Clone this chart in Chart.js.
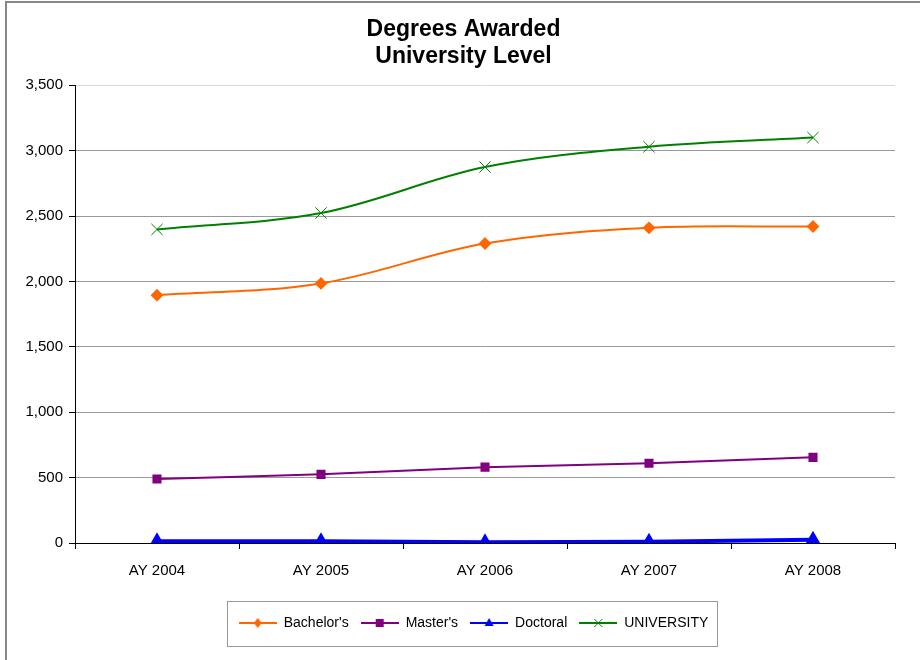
<!DOCTYPE html>
<html>
<head>
<meta charset="utf-8">
<script src="https://cdn.jsdelivr.net/npm/chart.js@4/dist/chart.umd.min.js"></script>
<style>
  body { margin: 0; background: #fff; }
  #wrap { position: relative; width: 920px; height: 660px; overflow: hidden; }
  #frame { position: absolute; left: 5px; top: 1px; width: 960px; height: 700px; border: 2px solid #888; }
  canvas { position: absolute; left: 0; top: 0; }
</style>
</head>
<body>
<div id="wrap">
  <div id="frame"></div>
  <canvas id="degreesChart" width="920" height="660"></canvas>
</div>
<script>
const years = ['AY 2004', 'AY 2005', 'AY 2006', 'AY 2007', 'AY 2008'];
const bachelors = [1895, 1985, 2290, 2410, 2420];
const masters = [490, 525, 580, 610, 655];
const doctoral = [13, 13, 5, 10, 25];
const university = [2398, 2523, 2875, 3030, 3100];
const yMin = 0, yMax = 3500, yStep = 500;

const FONT = 'Liberation Sans, Arial, sans-serif';
const LEGEND_GAP = 12;

// little line + marker picture for the legend
function legendSymbol(color, style, lineWidth) {
    const c = document.createElement('canvas');
    c.width = 38; c.height = 14;
    const g = c.getContext('2d');
    g.strokeStyle = color; g.fillStyle = color;
    g.lineWidth = lineWidth;
    g.beginPath(); g.moveTo(0, 7); g.lineTo(38, 7); g.stroke();
    const x = 19, y = 7;
    g.beginPath();
    if (style === 'diamond') {
        g.moveTo(x, y - 5); g.lineTo(x + 4, y); g.lineTo(x, y + 5); g.lineTo(x - 4, y); g.closePath(); g.fill();
    } else if (style === 'square') {
        g.fillRect(x - 4, y - 4, 8, 8);
    } else if (style === 'triangle') {
        g.moveTo(x, y - 5); g.lineTo(x + 4.5, y + 3); g.lineTo(x - 4.5, y + 3); g.closePath(); g.fill();
    } else {
        g.lineWidth = 1;
        g.moveTo(x - 4, y - 4); g.lineTo(x + 4, y + 4);
        g.moveTo(x + 4, y - 4); g.lineTo(x - 4, y + 4); g.stroke();
    }
    return c;
}

const symbols = [
    legendSymbol('#FF6600', 'diamond', 2),
    legendSymbol('#800080', 'square', 2),
    legendSymbol('#0000FF', 'triangle', 2),
    legendSymbol('#008000', 'cross', 2)
];

// nudge title and legend a bit right, like the original sheet
const nudge = {
    id: 'nudge',
    afterLayout(chart) {
        if (chart.titleBlock) chart.titleBlock.left += 32;
        if (chart.legend) chart.legend.left += 52;
    }
};

// grey frame round the legend
const legendFrame = {
    id: 'legendFrame',
    afterDraw(chart) {
        const lg = chart.legend;
        const boxes = lg.legendHitBoxes;
        if (!boxes || !boxes.length) return;
        const total = boxes.reduce((s, b) => s + b.width, 0) + LEGEND_GAP * (boxes.length - 1);
        const center = (lg.left + lg.right) / 2;
        const left = center - total / 2;
        const mid = boxes[0].top + boxes[0].height / 2;
        const ctx = chart.ctx;
        ctx.save();
        ctx.strokeStyle = '#999';
        ctx.lineWidth = 1;
        ctx.strokeRect(Math.round(left - 12) + 0.5, Math.round(mid - 22) + 0.5, Math.round(total + 20), 45);
        ctx.restore();
    }
};

const ctx = document.getElementById('degreesChart').getContext('2d');

const chart = new Chart(ctx, {
    type: 'line',
    data: {
        labels: years,
        datasets: [{
            label: "Bachelor's",
            data: bachelors,
            borderColor: '#FF6600',
            backgroundColor: '#FF6600',
            borderWidth: 2,
            pointStyle: 'rectRot',
            pointRadius: 5,
            tension: 0.35
        }, {
            label: "Master's",
            data: masters,
            borderColor: '#800080',
            backgroundColor: '#800080',
            borderWidth: 2,
            pointStyle: 'rect',
            pointRadius: 5,
            tension: 0.2
        }, {
            label: 'Doctoral',
            data: doctoral,
            borderColor: '#0000FF',
            backgroundColor: '#0000FF',
            borderWidth: 4,
            pointStyle: 'triangle',
            pointRadius: 5,
            tension: 0
        }, {
            label: 'UNIVERSITY',
            data: university,
            borderColor: '#008000',
            backgroundColor: '#008000',
            borderWidth: 2,
            pointStyle: 'crossRot',
            pointRadius: 8,
            pointBorderWidth: 1,
            tension: 0.35
        }]
    },
    options: {
        responsive: false,
        animation: false,
        layout: { padding: { left: 0, right: 25, top: 0, bottom: 20 } },
        plugins: {
            title: {
                display: true,
                text: ['Degrees Awarded', 'University Level'],
                color: '#000',
                font: { family: FONT, size: 23, weight: 'bold', lineHeight: 1.18 },
                padding: { top: 16, bottom: 15 }
            },
            legend: {
                position: 'bottom',
                labels: {
                    color: '#000',
                    font: { family: FONT, size: 14 },
                    usePointStyle: true,
                    pointStyleWidth: 38,
                    padding: LEGEND_GAP,
                    generateLabels(chart) {
                        return chart.data.datasets.map((ds, i) => ({
                            text: ds.label,
                            fontColor: '#000',
                            pointStyle: symbols[i],
                            datasetIndex: i,
                            hidden: false,
                            lineWidth: 0
                        }));
                    }
                }
            },
            tooltip: { enabled: false }
        },
        scales: {
            x: {
                offset: true,
                afterFit(scale) { scale.height = 61; },
                grid: {
                    offset: true,
                    drawOnChartArea: false,
                    tickLength: 6,
                    tickColor: '#000'
                },
                border: { color: '#000', width: 1 },
                ticks: { color: '#000', font: { family: FONT, size: 15 }, padding: 13 }
            },
            y: {
                min: yMin,
                max: yMax,
                afterFit(scale) { scale.width = 75; },
                grid: {
                    color: (c) => c.tick && c.tick.value === yMax ? '#d8d8d8' : '#999',
                    lineWidth: 1,
                    tickLength: 6,
                    tickColor: '#000'
                },
                border: { color: '#000', width: 1 },
                ticks: {
                    stepSize: yStep,
                    color: '#000',
                    font: { family: FONT, size: 15 },
                    padding: 6,
                    callback: (v) => v.toLocaleString('en-US')
                }
            }
        }
    },
    plugins: [nudge, legendFrame]
});
</script>
</body>
</html>
